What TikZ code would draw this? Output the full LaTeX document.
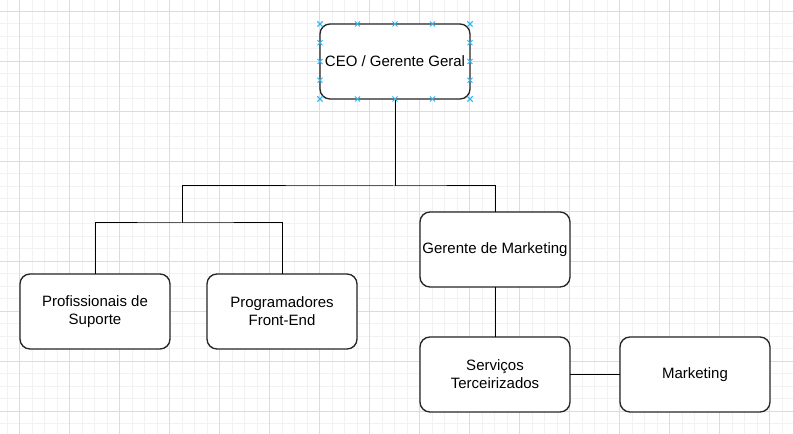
\documentclass[tikz,border=0pt]{standalone}
\usepackage{fontspec}
\setmainfont{Liberation Sans}
\usepackage{xcolor}
\usepackage{tikz}
\usetikzlibrary{positioning, calc}

\definecolor{gridminor}{HTML}{F2F2F2}
\definecolor{gridmajor}{HTML}{DCDCDC}
\definecolor{handleblue}{HTML}{29B6F2}

\begin{document}
\begin{tikzpicture}[
        x=0.75pt, y=-0.75pt,
        % Define common styles for nodes
        block/.style={rectangle, draw=black!85, line width=1pt, fill=white, outer sep=0pt, inner xsep=1pt, minimum width=112.5pt, minimum height=56.25pt, align=center, rounded corners=7.5pt, font=\fontsize{11.25pt}{13.3pt}\selectfont},
        line/.style={draw, line width=0.75pt},
        % Styles for the background grid and the selection handles
        minor_grid/.style={draw=gridminor, line width=0.75pt},
        major_grid/.style={draw=gridmajor, line width=0.75pt},
        handle/.style={draw=handleblue, line width=0.75pt},
    ]

    % Background grid
    \useasboundingbox (0,0) rectangle (793,434);
    \fill[white] (0,0) rectangle (793,434);
    \foreach \gx in {7,19.5,...,793} \draw[minor_grid] (\gx,0) -- (\gx,434);
    \foreach \gy in {11.5,24,...,434} \draw[minor_grid] (0,\gy) -- (793,\gy);
    \foreach \gx in {19.5,69.5,...,793} \draw[major_grid] (\gx,0) -- (\gx,434);
    \foreach \gy in {11.5,61.5,...,434} \draw[major_grid] (0,\gy) -- (793,\gy);

    % Top of the chart
    \node (ceo) [block] at (395,61.5) {CEO / Gerente Geral};

    % Marketing branch
    \node (gerente_mkt) [block, below=84.75pt of ceo, xshift=75pt] {Gerente de Marketing};
    \node (terceirizados) [block, below=37.5pt of gerente_mkt] {Servi\c{c}os\\Terceirizados};
    \node (marketing) [block, right=37.5pt of terceirizados] {Marketing};

    % Left branch
    \node (frontend) [block] at (282,311.5) {Programadores\\Front-End};
    \node (suporte) [block, left=27.75pt of frontend] {Profissionais de\\Suporte};

    % Draw connections
    \coordinate (split_top) at (395,186);
    \coordinate (split_left) at (182,223);
    \draw[line] (ceo.south) -- (split_top);
    \draw[line] (split_left) |- (split_top) -| (gerente_mkt.north);
    \draw[line] (suporte.north) |- (split_left) -| (frontend.north);
    \draw[line] (gerente_mkt.south) -- (terceirizados.north);
    \draw[line] (terceirizados.east) -- (marketing.west);

    % Selection handles round the CEO box
    \foreach \t in {0,0.25,...,1} {
        \draw[handle] ($(ceo.north west)!\t!(ceo.north east)$) +(-2.5,-2.5) -- +(2.5,2.5) +(-2.5,2.5) -- +(2.5,-2.5);
        \draw[handle] ($(ceo.south west)!\t!(ceo.south east)$) +(-2.5,-2.5) -- +(2.5,2.5) +(-2.5,2.5) -- +(2.5,-2.5);
        \draw[handle] ($(ceo.north west)!\t!(ceo.south west)$) +(-2.5,-2.5) -- +(2.5,2.5) +(-2.5,2.5) -- +(2.5,-2.5);
        \draw[handle] ($(ceo.north east)!\t!(ceo.south east)$) +(-2.5,-2.5) -- +(2.5,2.5) +(-2.5,2.5) -- +(2.5,-2.5);
    }

\end{tikzpicture}
\end{document}
